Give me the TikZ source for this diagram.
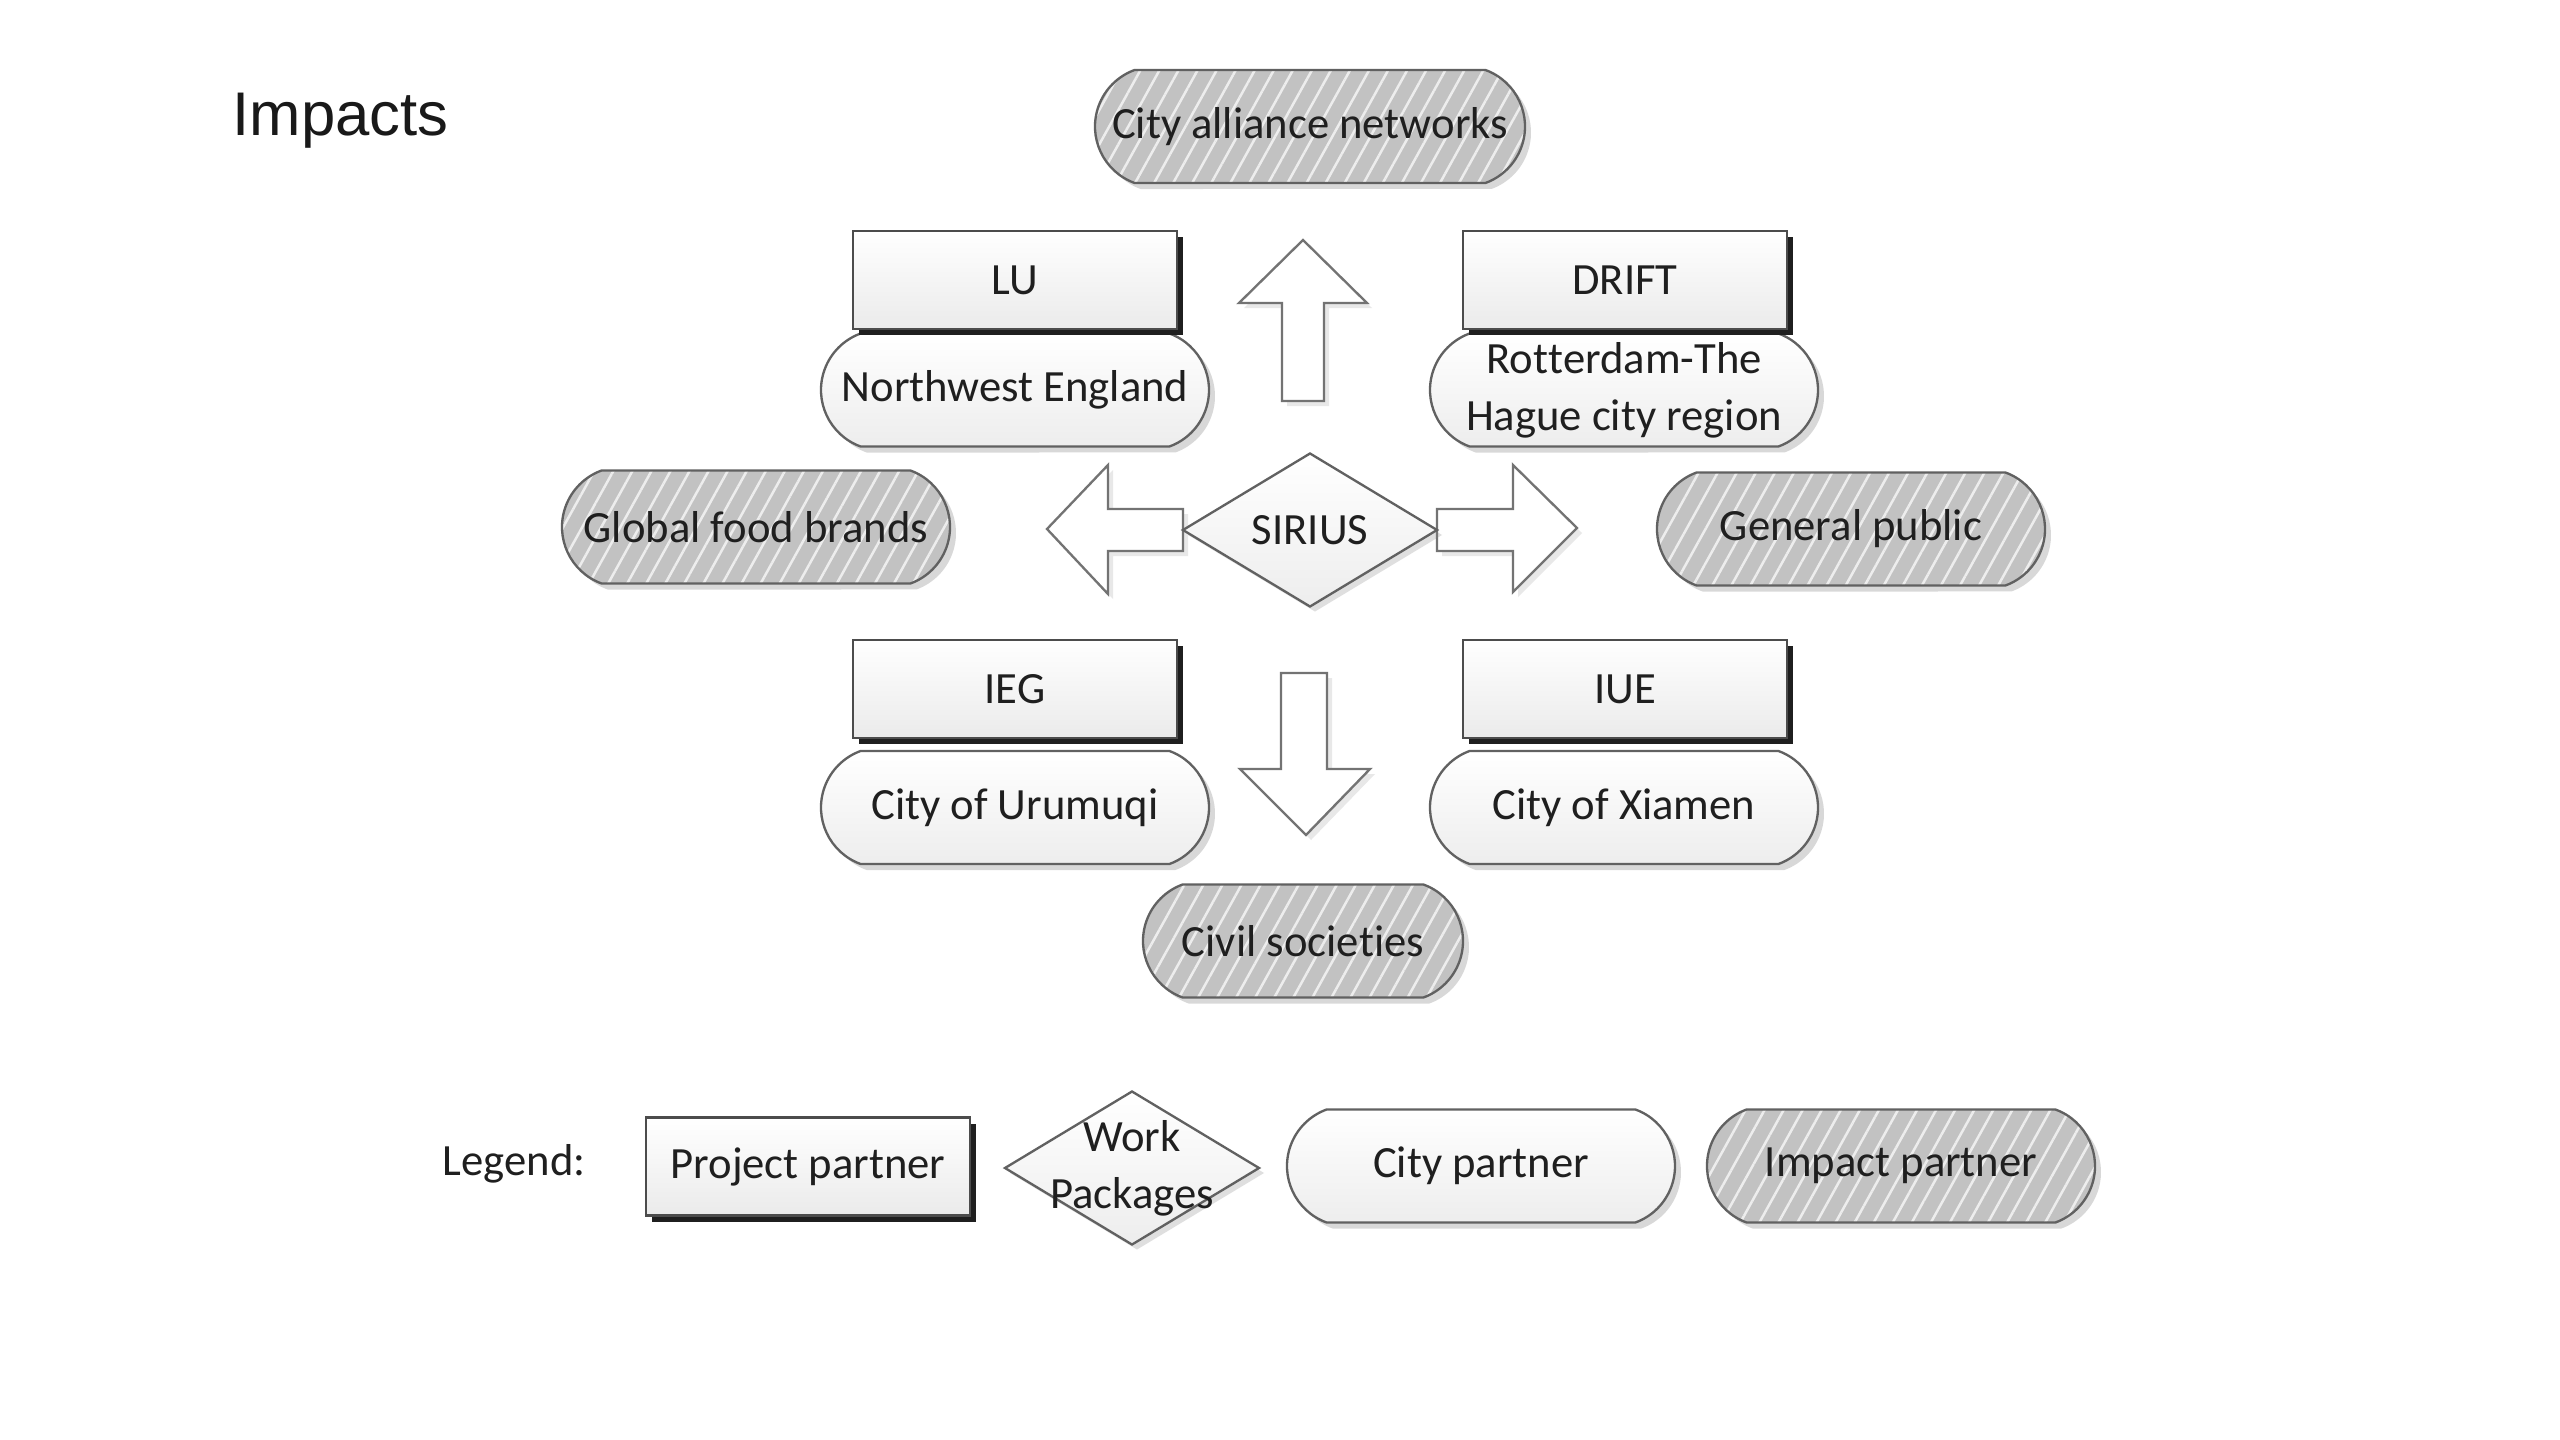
\documentclass[tikz,border=0pt]{standalone}
\usepackage{fontspec}
\setmainfont{Carlito}[Ligatures={NoCommon,NoContextual}]
\newfontfamily\titlefont{Liberation Sans}
\usetikzlibrary{shapes.misc,shapes.geometric,shadows,patterns.meta}
\begin{document}
\begin{tikzpicture}[x=0.3pt,y=-0.3pt,
  every node/.style={text=black!88, font=\fontsize{13.4}{17}\selectfont},
  partner/.style={rectangle, draw=black!70, line width=0.7pt, top color=white, bottom color=black!8,
    minimum width=97.2pt, minimum height=29.4pt, inner sep=0pt,
    general shadow={fill=black!88, shadow xshift=1.8pt, shadow yshift=-1.8pt}},
  citypill/.style={rounded rectangle, rounded rectangle arc length=140, draw=black!62, line width=0.7pt,
    top color=white, bottom color=black!7, minimum width=116.4pt, minimum height=33.9pt, inner sep=0pt,
    align=center, drop shadow={opacity=0.3, shadow xshift=1.8pt, shadow yshift=-1.8pt}},
  impactpill/.style={rounded rectangle, rounded rectangle arc length=140, draw=black!62, line width=0.7pt,
    minimum width=116.4pt, minimum height=33.9pt, inner sep=0pt, align=center,
    drop shadow={opacity=0.3, shadow xshift=1.8pt, shadow yshift=-1.8pt},
    preaction={fill=black!24},
    pattern={Lines[angle=61, distance=5pt, line width=0.75pt]}, pattern color=black!7},
  wpshape/.style={diamond, draw=black!62, line width=0.7pt, top color=white, bottom color=black!7,
    minimum width=76.5pt, minimum height=46.2pt, inner sep=0pt, aspect=1.65,
    drop shadow={opacity=0.25, shadow xshift=1.5pt, shadow yshift=-1.5pt}},
  blockarrow/.style={draw=black!55, line width=0.7pt, fill=white, line join=miter,
    drop shadow={opacity=0.18, shadow xshift=1.5pt, shadow yshift=-1.5pt}}
]
\fill[white] (0,0) rectangle (2560,1440);
\useasboundingbox (0,0) rectangle (2560,1440);

% title
\node[anchor=base west, inner sep=0pt, font=\titlefont\fontsize{18.5}{22}\selectfont, text=black!90] (title) at (232,135) {Impacts};

% block arrows
\draw[blockarrow] (1239,303) -- (1303,240) -- (1367,303) -- (1324,303) -- (1324,401) -- (1282,401) -- (1282,303) -- cycle;
\draw[blockarrow] (1183,509) -- (1108,509) -- (1108,465) -- (1047,529) -- (1108,594) -- (1108,551) -- (1183,551) -- cycle;
\draw[blockarrow] (1437,509) -- (1513,509) -- (1513,465) -- (1577,528) -- (1513,592) -- (1513,551) -- (1437,551) -- cycle;
\draw[blockarrow] (1281,673) -- (1327,673) -- (1327,769) -- (1370,769) -- (1306,835) -- (1240,769) -- (1281,769) -- cycle;

% impact partners
\node[impactpill, minimum width=129pt] (cityall) at (1310,126.5) {City alliance networks};
\node[impactpill] (gfb) at (756,527) {Global food brands};
\node[impactpill] (gp) at (1851,529) {General public};
\node[impactpill, minimum width=96pt] (civil) at (1303,941) {Civil socie\kern0pt t\kern0pt ies};

% city partners
\node[citypill] (nwe) at (1015,390) {Northwest England};
\node[citypill] (rot) at (1624,390) {Rot\kern0pt t\kern0pt erdam-The\\Hague city region};
\node[citypill] (uru) at (1015,807.5) {City of Urumuqi};
\node[citypill] (xia) at (1624,807.5) {City of Xiamen};

% project partners
\node[partner] (lu) at (1015,280) {LU};
\node[partner] (drift) at (1625,280) {DRIFT};
\node[partner] (ieg) at (1015,689) {IEG};
\node[partner] (iue) at (1625,689) {IUE};

% work package
\node[wpshape] (sirius) at (1310,530) {SIRIUS};

% legend
\node[anchor=base west, inner sep=0pt] (legend) at (442,1175) {Legend:};
\node[partner] (lpp) at (808,1166.5) {Project partner};
\node[wpshape] (lwp) at (1132,1168) {};
\node[align=center, inner sep=0pt] (lwptext) at (lwp.center) {Work\\Packages};
\node[citypill] (lcp) at (1481,1166) {City partner};
\node[impactpill] (lip) at (1901,1166) {Impact partner};
\end{tikzpicture}
\end{document}
